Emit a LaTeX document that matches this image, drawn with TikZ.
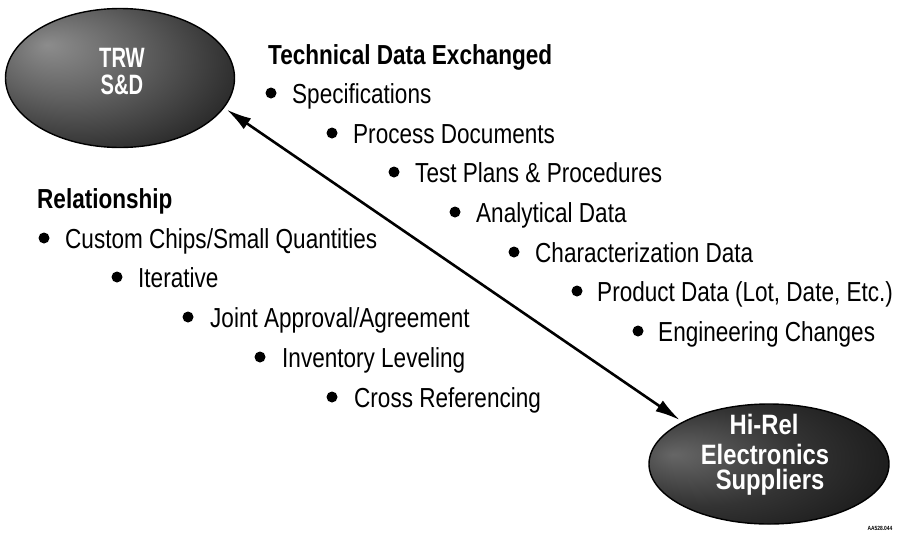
\documentclass[tikz,border=0pt]{standalone}
\usepackage{fontspec}
\setmainfont{Liberation Sans}[FakeStretch=0.82]
\newfontfamily\trwfont{Liberation Sans}[FakeStretch=0.72]
\newfontfamily\supfont{Liberation Sans}[FakeStretch=0.85]
\usetikzlibrary{shapes.geometric,arrows.meta}
\pgfdeclareradialshading{ovalshade}{\pgfpoint{-16bp}{12bp}}{color(0bp)=(black!45);color(16bp)=(black!62);color(38bp)=(black!88);color(60bp)=(black)}
\pgfdeclareradialshading{supshade}{\pgfpoint{-20bp}{4bp}}{color(0bp)=(black!60);color(20bp)=(black!80);color(40bp)=(black!92);color(60bp)=(black)}
\begin{document}
\begin{tikzpicture}[x=1pt,y=-1pt,
  oval/.style={ellipse, draw=black, line width=1.4pt, shade, inner sep=0pt},
  ovaltext/.style={text=white, font=#1, inner sep=0pt},
  head/.style={anchor=base west, inner sep=0pt, font=\fontsize{27.5}{32}\selectfont\bfseries},
  itm/.style={anchor=base west, inner sep=0pt, font=\fontsize{27.5}{32}\selectfont},
  bul/.style={circle, fill=black, inner sep=0pt, minimum size=11pt},
  arr/.style={line width=2.6pt, {Latex[length=25pt,width=13pt]}-{Latex[length=25pt,width=13pt]}, shorten <=3pt, shorten >=3pt}
]
\fill[white] (0,0) rectangle (909,552);
\useasboundingbox (0,0) rectangle (909,552);

% ovals
\node[oval, shading=ovalshade, minimum width=229pt, minimum height=139pt] (trw) at (120,78) {};
\node[ovaltext={\trwfont\bfseries\fontsize{28}{28}\selectfont}] (trwA) at (122,58) {TRW};
\node[ovaltext={\trwfont\bfseries\fontsize{28}{28}\selectfont}] (trwB) at (122,85) {S\&D};

\node[oval, shading=supshade, minimum width=240pt, minimum height=120pt] (sup) at (769,464) {};
\node[ovaltext={\supfont\bfseries\fontsize{28}{28}\selectfont}] (supA) at (764,424) {Hi-Rel};
\node[ovaltext={\supfont\bfseries\fontsize{28}{28}\selectfont}] (supB) at (765,454) {Electronics};
\node[ovaltext={\supfont\bfseries\fontsize{28}{28}\selectfont}] (supC) at (770,482) {Suppliers};

% arrow
\draw[arr] (trw.-16) -- (sup.154);

% technical data
\node[head] (th) at (268,64) {Technical Data Exchanged};
\node[bul] (r1) at (271,93) {};   \node[itm] (s1) at (292,103) {Specifications};
\node[bul] (r2) at (332,133) {};  \node[itm] (s2) at (353,143) {Process Documents};
\node[bul] (r3) at (394,172) {};  \node[itm] (s3) at (415,182) {Test Plans \& Procedures};
\node[bul] (r4) at (455,212) {};  \node[itm] (s4) at (476,222) {Analytical Data};
\node[bul] (r5) at (514,252) {};  \node[itm] (s5) at (535,262) {Characterization Data};
\node[bul] (r6) at (577,291) {};  \node[itm] (s6) at (597,301) {Product Data (Lot, Date, Etc.)};
\node[bul] (r7) at (638,331) {};  \node[itm] (s7) at (658,341) {Engineering Changes};

% relationship
\node[head] (lh) at (37,208) {Relationship};
\node[bul] (l1) at (44,238) {};   \node[itm] (m1) at (65,248) {Custom Chips/Small Quantities};
\node[bul] (l2) at (117,277) {};  \node[itm] (m2) at (138,287) {Iterative};
\node[bul] (l3) at (188,317) {};  \node[itm] (m3) at (210,327) {Joint Approval/Agreement};
\node[bul] (l4) at (260,357) {};  \node[itm] (m4) at (282,367) {Inventory Leveling};
\node[bul] (l5) at (332,397) {};  \node[itm] (m5) at (354,407) {Cross Referencing};

% reference code
\node[inner sep=0pt, font=\fontsize{6}{6}\selectfont\bfseries] (code) at (880,528) {AA528.044};
\end{tikzpicture}
\end{document}
